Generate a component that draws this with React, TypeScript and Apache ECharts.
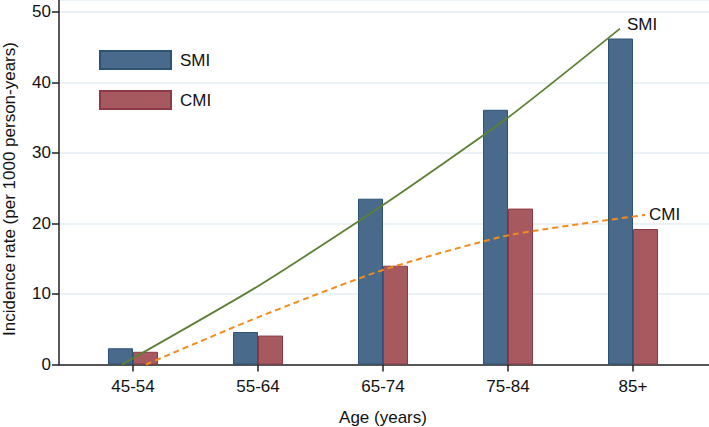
import React, { useEffect, useRef } from "react";
import * as echarts from "echarts";

const categories = ["45-54", "55-64", "65-74", "75-84", "85+"];
const smiRates = [2.3, 4.6, 23.5, 36.1, 46.2];
const cmiRates = [1.8, 4.1, 14.0, 22.1, 19.2];
// fitted trend curves: [category position (1 = first group), rate]
const smiTrend: [number, number][] = [
  [0.912, 0],
  [2, 11.1],
  [3, 22.6],
  [4, 35.0],
  [4.896, 47.6],
];
const cmiTrend: [number, number][] = [
  [1.104, 0],
  [2, 6.7],
  [3, 13.4],
  [4, 18.3],
  [5.096, 21.2],
];
const yTicks = [0, 10, 20, 30, 40, 50];

const FONT = "'Liberation Sans', Arial, sans-serif";
const FS = 17;

export default function App() {
  const ref = useRef<HTMLDivElement>(null);
  useEffect(() => {
    if (!ref.current) return;
    const chart = echarts.init(ref.current, undefined, { renderer: "svg" });
    const yMax = 51.66;
    chart.setOption({
      animation: false,
      textStyle: { fontFamily: FONT },
      grid: [
        { left: 70.5, right: 13.5, top: 0, bottom: 62.5, outerBoundsMode: "none", containLabel: false },
        { left: 59, right: 0, top: 0, bottom: 62.5, outerBoundsMode: "none", containLabel: false },
      ],
      legend: {
        data: ["SMI", "CMI"],
        orient: "vertical",
        left: 99,
        top: 50,
        padding: 0,
        itemWidth: 71,
        itemHeight: 18,
        itemGap: 20,
        icon: "rect",
        textStyle: { fontSize: FS, color: "#111", fontFamily: FONT, padding: [0, 0, 0, 4] },
      },
      xAxis: [
        {
          type: "category",
          gridIndex: 0,
          data: categories,
          axisLine: { show: false },
          axisTick: { show: true, alignWithLabel: true, length: 7, lineStyle: { color: "#222", width: 1.5 } },
          axisLabel: { fontSize: FS, color: "#111", margin: 13, fontFamily: FONT },
          name: "Age (years)",
          nameLocation: "middle",
          nameGap: 44,
          nameTextStyle: { fontSize: FS, color: "#111", fontFamily: FONT },
        },
        {
          type: "value",
          gridIndex: 1,
          min: 0.408,
          max: 5.608,
          axisLine: { show: true, onZero: false, lineStyle: { color: "#222", width: 1.5 } },
          axisTick: { show: false },
          axisLabel: { show: false },
          splitLine: { show: false },
        },
      ],
      yAxis: [
        {
          type: "value",
          gridIndex: 0,
          min: 0,
          max: yMax,
          show: false,
        },
        {
          type: "value",
          gridIndex: 1,
          min: 0,
          max: yMax,
          interval: 10,
          axisLine: { show: true, lineStyle: { color: "#222", width: 1.5 } },
          axisTick: { show: true, length: 7, lineStyle: { color: "#222", width: 1.5 } },
          axisLabel: {
            fontSize: FS,
            color: "#111",
            margin: 8,
            fontFamily: FONT,
            showMaxLabel: false,
            formatter: (v: number) => (yTicks.includes(v) ? String(v) : ""),
          },
          splitLine: { show: true, lineStyle: { color: "#e4eef2", width: 1.5 } },
        },
      ],
      graphic: [
        {
          type: "text",
          x: 9,
          y: 189,
          rotation: Math.PI / 2,
          style: {
            text: "Incidence rate (per 1000 person-years)",
            fontSize: FS,
            fill: "#111",
            fontFamily: FONT,
            align: "center",
            verticalAlign: "middle",
          },
        },
      ],
      series: [
        {
          name: "SMI",
          type: "bar",
          xAxisIndex: 0,
          yAxisIndex: 0,
          data: smiRates,
          barWidth: 25,
          barGap: "0%",
          itemStyle: { color: "#496a8b", borderColor: "#2c5278", borderWidth: 1 },
        },
        {
          name: "CMI",
          type: "bar",
          xAxisIndex: 0,
          yAxisIndex: 0,
          data: cmiRates,
          barWidth: 25,
          barGap: "0%",
          itemStyle: { color: "#a65a60", borderColor: "#8c3a45", borderWidth: 1 },
        },
        {
          name: "SMI trend",
          type: "line",
          xAxisIndex: 1,
          yAxisIndex: 1,
          data: smiTrend,
          smooth: 0.2,
          showSymbol: false,
          lineStyle: { color: "#5c8034", width: 1.8 },
          endLabel: {
            show: true,
            formatter: () => "SMI",
            fontSize: FS,
            color: "#111",
            fontFamily: FONT,
            distance: 7,
            offset: [0, -4],
          },
          z: 5,
        },
        {
          name: "CMI trend",
          type: "line",
          xAxisIndex: 1,
          yAxisIndex: 1,
          data: cmiTrend,
          smooth: 0.2,
          showSymbol: false,
          lineStyle: { color: "#f28c1c", width: 2, type: [6, 4] },
          endLabel: {
            show: true,
            formatter: () => "CMI",
            fontSize: FS,
            color: "#111",
            fontFamily: FONT,
            distance: 4,
            offset: [0, 0],
          },
          z: 5,
        },
      ],
    });
    return () => chart.dispose();
  }, []);
  return <div ref={ref} style={{ width: 709, height: 427, position: "absolute", left: 0, top: 0 }} />;
}
